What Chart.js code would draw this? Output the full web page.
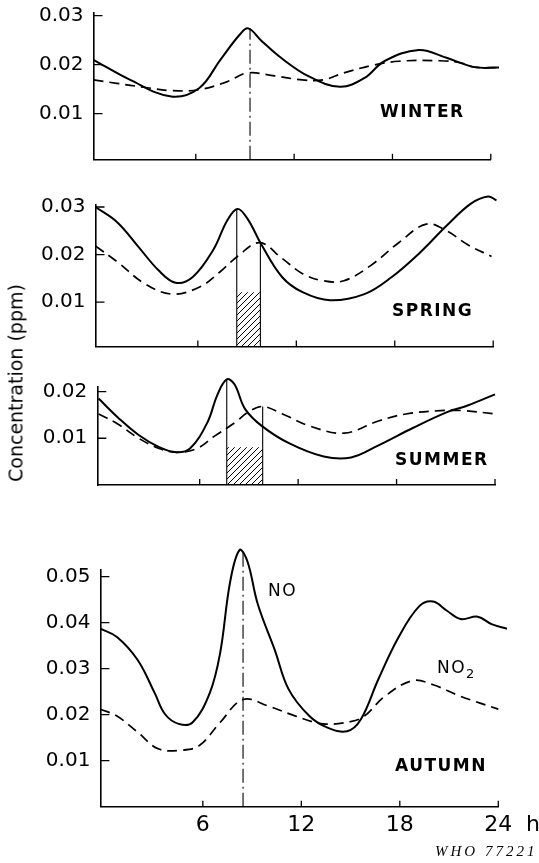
<!DOCTYPE html>
<html>
<head>
<meta charset="utf-8">
<script src="https://cdn.jsdelivr.net/npm/chart.js@4.4.1/dist/chart.umd.min.js"></script>
<style>
  html, body { margin: 0; padding: 0; background: #fff; }
  body { width: 539px; height: 863px; position: relative; overflow: hidden; font-family: "DejaVu Sans", sans-serif; color: #000; }
  canvas { position: absolute; left: 0; }
  .season { position: absolute; font-weight: bold; font-size: 17px; letter-spacing: 1.5px; line-height: 1; white-space: nowrap; }
  .note { position: absolute; font-size: 17px; letter-spacing: 1.5px; line-height: 1; white-space: nowrap; }
  .note sub { font-size: 13px; vertical-align: -5px; }
  #ytitle { position: absolute; left: 16px; top: 383px; transform: translate(-50%, -50%) rotate(-90deg); font-size: 19px; line-height: 1; white-space: nowrap; }
  #hunit { position: absolute; left: 526px; top: 813px; font-size: 22px; line-height: 1; }
  #who { position: absolute; left: 435px; top: 844px; font-family: "Liberation Serif", serif; font-style: italic; font-size: 15px; letter-spacing: 3px; line-height: 1; white-space: nowrap; }
</style>
</head>
<body>
<canvas id="winter" width="539" height="175" style="top:0px"></canvas>
<canvas id="spring" width="539" height="182" style="top:180px"></canvas>
<canvas id="summer" width="539" height="130" style="top:370px"></canvas>
<canvas id="autumn" width="539" height="323" style="top:530px"></canvas>

<div class="season" style="left:380px; top:103px">WINTER</div>
<div class="season" style="left:392px; top:302px">SPRING</div>
<div class="season" style="left:395px; top:451px">SUMMER</div>
<div class="season" style="left:395px; top:757px">AUTUMN</div>
<div class="note" style="left:268px; top:582px">NO</div>
<div class="note" style="left:437px; top:659px">NO<sub>2</sub></div>
<div id="ytitle">Concentration (ppm)</div>
<div id="hunit">h</div>
<div id="who">WHO 77221</div>

<script>
// hours of day (x) and concentrations in ppm (y)
const xMin = -0.24;
const xTicks = [6, 12, 18, 24];

// WINTER
const winterTicks = [0.01, 0.02, 0.03];
const winterNoHours = [-0.24, 2.0, 4.5, 6.2, 7.5, 8.7, 9.2, 10.0, 11.2, 12.9, 14.8, 16.3, 17.5, 19.6, 21.3, 23.0, 24.5];
const winterNo = [0.0210, 0.0169, 0.0135, 0.0152, 0.0210, 0.0262, 0.0274, 0.0249, 0.0214, 0.0176, 0.0155, 0.0173, 0.0207, 0.0230, 0.0214, 0.0195, 0.0194];
const winterNo2Hours = [-0.24, 1.17, 2.85, 4.53, 6.21, 7.89, 9.15, 10.82, 12.5, 13.76, 15.02, 16.7, 18.38, 20.89, 22.15, 22.99, 24.46];
const winterNo2 = [0.0169, 0.0162, 0.0154, 0.0147, 0.0149, 0.0165, 0.0183, 0.0177, 0.0169, 0.0169, 0.0183, 0.0198, 0.0207, 0.0208, 0.0204, 0.0195, 0.0194];
const winterMarks = [9.31];
const winterMarkTops = [0.0274];

// SPRING
const springTicks = [0.01, 0.02, 0.03];
const springNoHours = [-0.24, 1.08, 2.34, 3.6, 4.64, 5.69, 6.94, 7.78, 8.41, 9.03, 9.87, 11.13, 12.38, 14.06, 16.15, 17.82, 19.5, 21.17, 22.64, 23.68, 24.2];
const springNo = [0.0300, 0.0268, 0.0218, 0.0167, 0.0141, 0.0153, 0.0210, 0.0271, 0.0296, 0.0275, 0.0221, 0.0153, 0.0121, 0.0104, 0.0117, 0.0153, 0.0203, 0.0261, 0.0307, 0.0322, 0.0314];
const springNo2Hours = [-0.24, 1.08, 2.76, 4.43, 6.11, 7.36, 8.41, 9.77, 11.13, 12.38, 13.64, 14.9, 16.57, 18.24, 19.92, 21.17, 22.43, 23.9];
const springNo2 = [0.0218, 0.0185, 0.0139, 0.0117, 0.0132, 0.0164, 0.0196, 0.0225, 0.0192, 0.0160, 0.0145, 0.0145, 0.0178, 0.0225, 0.0264, 0.0250, 0.0221, 0.0196];
const springMarks = [8.37, 9.81];
const springMarkTops = [0.0296, 0.0225];
const springHatch = 0.0121;

// SUMMER
const summerTicks = [0.01, 0.02];
const summerNoHours = [-0.16, 1.03, 2.28, 3.53, 4.58, 5.41, 6.46, 7.08, 7.65, 8.13, 8.76, 9.8, 11.47, 13.56, 15.23, 16.9, 18.99, 21.08, 22.33, 24.0];
const summerNo = [0.0185, 0.0144, 0.0107, 0.0081, 0.0070, 0.0078, 0.0133, 0.0193, 0.0226, 0.0215, 0.0163, 0.0126, 0.0089, 0.0061, 0.0059, 0.0085, 0.0122, 0.0156, 0.0170, 0.0194];
const summerNo2Hours = [-0.16, 1.03, 2.28, 3.53, 4.58, 5.83, 6.88, 8.13, 8.96, 9.84, 11.05, 12.72, 14.81, 16.9, 18.57, 20.66, 22.12, 24.0];
const summerNo2 = [0.0152, 0.0130, 0.0100, 0.0078, 0.0070, 0.0078, 0.0104, 0.0133, 0.0156, 0.0168, 0.0152, 0.0126, 0.0111, 0.0137, 0.0152, 0.0159, 0.0159, 0.0152];
const summerMarks = [7.65, 9.84];
const summerMarkTops = [0.0226, 0.0168];
const summerHatch = 0.0081;

// AUTUMN
const autumnTicks = [0.01, 0.02, 0.03, 0.04, 0.05];
const autumnNoHours = [-0.24, 0.77, 2.03, 3.07, 3.7, 4.53, 5.37, 6.42, 7.05, 7.67, 8.24, 8.72, 9.35, 10.39, 11.23, 12.49, 13.53, 14.79, 15.63, 16.68, 17.93, 19.19, 20.03, 20.87, 21.7, 22.75, 23.59, 24.53];
const autumnNo = [0.0387, 0.0369, 0.0319, 0.0247, 0.0201, 0.0180, 0.0183, 0.0247, 0.0333, 0.0490, 0.0558, 0.0533, 0.0440, 0.0340, 0.0255, 0.0197, 0.0173, 0.0164, 0.0190, 0.0276, 0.0369, 0.0436, 0.0446, 0.0426, 0.0408, 0.0413, 0.0397, 0.0387];
const autumnNo2Hours = [-0.24, 0.77, 2.03, 3.28, 4.75, 5.79, 7.05, 8.45, 9.98, 11.65, 13.33, 15.0, 15.84, 17.09, 18.77, 20.03, 21.7, 24.0];
const autumnNo2 = [0.0212, 0.0197, 0.0162, 0.0126, 0.0123, 0.0133, 0.0183, 0.0233, 0.0219, 0.0197, 0.0180, 0.0185, 0.0197, 0.0240, 0.0274, 0.0265, 0.0240, 0.0212];
const autumnMarks = [8.45];
const autumnMarkTops = [0.0558];

const tickFont = { family: "DejaVu Sans", size: 20 };
const xTickFont = { family: "DejaVu Sans", size: 22 };

function pts(hours, vals) {
    return hours.map((h, i) => ({ x: h, y: vals[i] }));
}

function hatchPattern() {
    const c = document.createElement("canvas");
    c.width = 6; c.height = 6;
    const g = c.getContext("2d");
    g.strokeStyle = "#000";
    g.lineWidth = 1;
    g.beginPath();
    g.moveTo(-1, 7); g.lineTo(7, -1);
    g.moveTo(-1, 1); g.lineTo(1, -1);
    g.moveTo(5, 7); g.lineTo(7, 5);
    g.stroke();
    return g.createPattern(c, "repeat");
}

// short ticks pointing into the plot, like the original
const inwardTicks = {
    id: "inwardTicks",
    afterDraw(chart) {
        const { ctx, scales: { x, y }, chartArea } = chart;
        ctx.save();
        ctx.strokeStyle = "#000";
        ctx.lineWidth = 1.3;
        ctx.beginPath();
        x.ticks.forEach(t => {
            const px = x.getPixelForValue(t.value);
            ctx.moveTo(px, chartArea.bottom);
            ctx.lineTo(px, chartArea.bottom - 6);
        });
        y.ticks.forEach(t => {
            const py = y.getPixelForValue(t.value);
            ctx.moveTo(chartArea.left, py);
            ctx.lineTo(chartArea.left + 9, py);
        });
        ctx.stroke();
        ctx.restore();
    }
};

function makePanel(p) {
    const datasets = [];

    if (p.hatch !== undefined) {
        datasets.push({
            data: [{ x: p.marks[0], y: p.hatch }, { x: p.marks[1], y: p.hatch }],
            borderWidth: 0,
            pointRadius: 0,
            fill: { value: p.yMin },
            backgroundColor: hatchPattern()
        });
    }

    p.marks.forEach((h, i) => {
        datasets.push({
            data: [{ x: h, y: p.yMin }, { x: h, y: p.markTops[i] }],
            borderColor: "#000",
            borderWidth: 1.1,
            borderDash: p.dashDot ? [14, 4, 2, 4] : [],
            pointRadius: 0,
            fill: false,
            clip: false
        });
    });

    const curve = {
        borderColor: "#000",
        pointRadius: 0,
        tension: 0.38,
        capBezierPoints: false,
        fill: false,
        clip: false
    };
    datasets.push({ ...curve, data: pts(p.noHours, p.no), borderWidth: 2 });
    datasets.push({ ...curve, data: pts(p.no2Hours, p.no2), borderWidth: 1.7, borderDash: [10, 6] });

    return new Chart(document.getElementById(p.id), {
        type: "line",
        data: { datasets },
        options: {
            responsive: false,
            animation: false,
            devicePixelRatio: 1,
            layout: { padding: { top: p.padTop, right: p.padRight, left: 0, bottom: 0 } },
            plugins: { legend: { display: false }, tooltip: { enabled: false } },
            scales: {
                x: {
                    type: "linear",
                    min: xMin,
                    max: 24,
                    grid: { display: false, drawTicks: false },
                    border: { display: true, color: "#000", width: 1.6 },
                    ticks: {
                        display: p.showX,
                        color: "#000",
                        font: xTickFont,
                        padding: 5,
                        maxRotation: 0,
                        autoSkip: false,
                        callback: v => String(v)
                    },
                    afterBuildTicks: s => { s.ticks = xTicks.map(v => ({ value: v })); },
                    afterFit: s => {
                        s.height = p.xHeight;
                        s.paddingLeft = 0;
                        s.paddingRight = 0;
                    }
                },
                y: {
                    type: "linear",
                    min: p.yMin,
                    max: p.yMax,
                    grid: { display: false, drawTicks: false },
                    border: { display: true, color: "#000", width: 1.6 },
                    ticks: {
                        color: "#000",
                        font: tickFont,
                        padding: 10,
                        callback: v => v.toFixed(2)
                    },
                    afterBuildTicks: s => { s.ticks = p.yTicks.map(v => ({ value: v })); },
                    afterFit: s => {
                        s.width = p.yWidth;
                        s.paddingTop = 0;
                        s.paddingBottom = 0;
                    }
                }
            }
        },
        plugins: [inwardTicks]
    });
}

makePanel({
    id: "winter", padTop: 12.7, padRight: 48.2, yWidth: 93.5, xHeight: 15.2,
    yMin: 0.0006, yMax: 0.0306, yTicks: winterTicks, showX: false, dashDot: true,
    noHours: winterNoHours, no: winterNo, no2Hours: winterNo2Hours, no2: winterNo2,
    marks: winterMarks, markTops: winterMarkTops
});
makePanel({
    id: "spring", padTop: 24.6, padRight: 45.8, yWidth: 95.5, xHeight: 15.5,
    yMin: 0.0007, yMax: 0.0305, yTicks: springTicks, showX: false, dashDot: false,
    noHours: springNoHours, no: springNo, no2Hours: springNo2Hours, no2: springNo2,
    marks: springMarks, markTops: springMarkTops, hatch: springHatch
});
makePanel({
    id: "summer", padTop: 16.4, padRight: 44, yWidth: 97.3, xHeight: 15,
    yMin: 0, yMax: 0.0211, yTicks: summerTicks, showX: false, dashDot: false,
    noHours: summerNoHours, no: summerNo, no2Hours: summerNo2Hours, no2: summerNo2,
    marks: summerMarks, markTops: summerMarkTops, hatch: summerHatch
});
makePanel({
    id: "autumn", padTop: 39.8, padRight: 40.7, yWidth: 100.4, xHeight: 46.3,
    yMin: 0, yMax: 0.0515, yTicks: autumnTicks, showX: true, dashDot: true,
    noHours: autumnNoHours, no: autumnNo, no2Hours: autumnNo2Hours, no2: autumnNo2,
    marks: autumnMarks, markTops: autumnMarkTops
});
</script>
</body>
</html>
